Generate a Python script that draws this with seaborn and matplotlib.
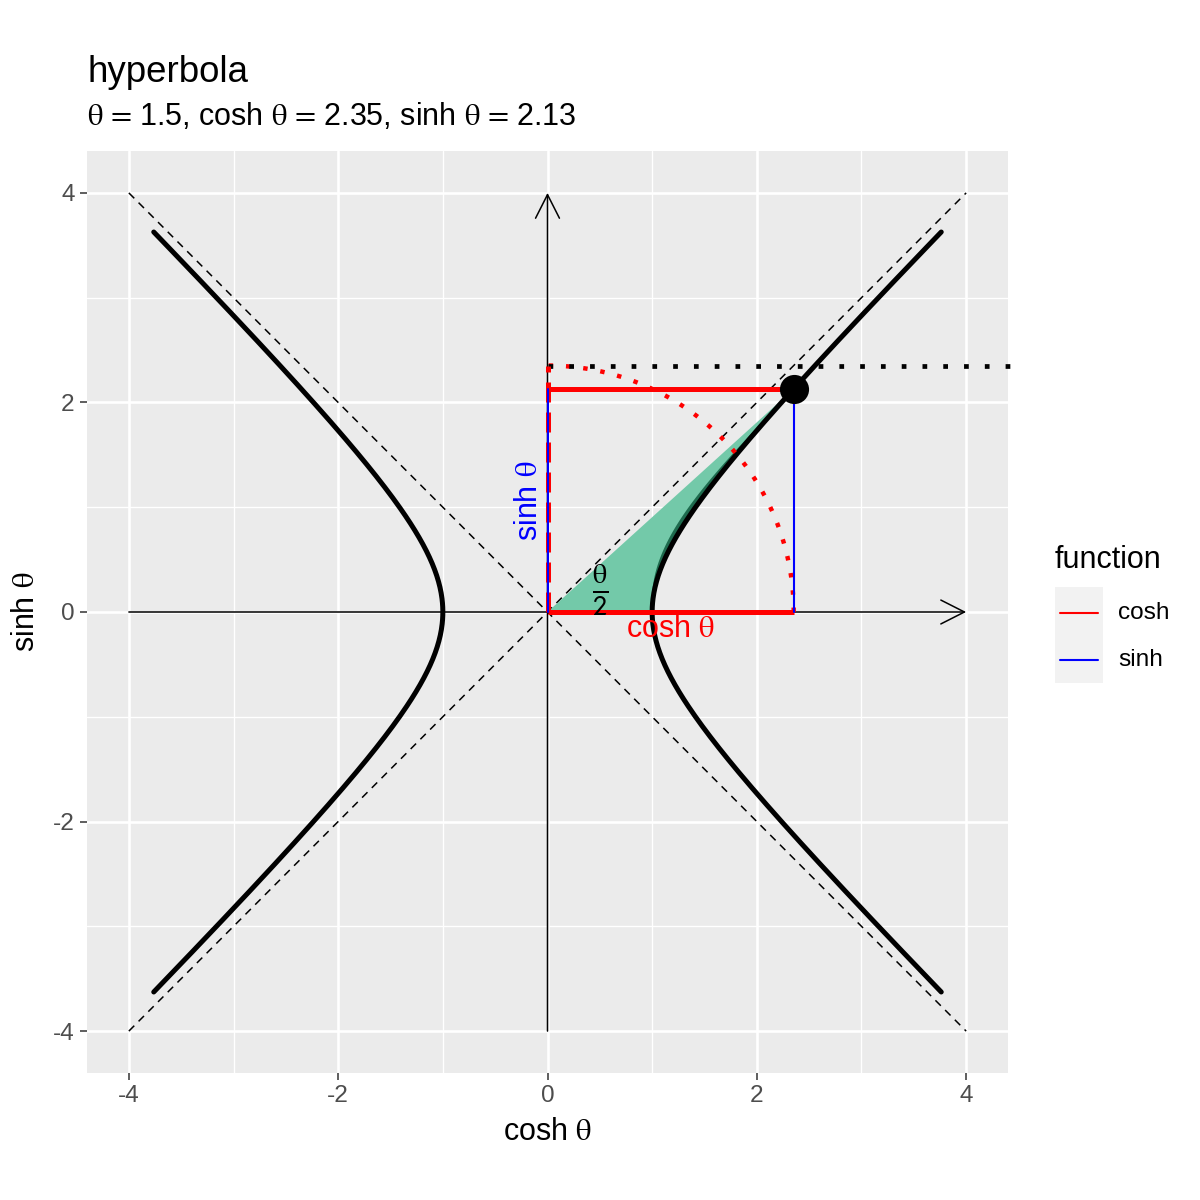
"""
Hyperbola x^2 - y^2 = 1 with cosh / sinh construction, ggplot look.
"""
import numpy as np
import pandas as pd
import seaborn as sns
import matplotlib.pyplot as plt
from matplotlib.lines import Line2D
from matplotlib.patches import Rectangle, Polygon

# --- values ---
theta = 1.5
theta_range = [-2.0, 2.0]      # parameter range of the hyperbola branches
asym_lim = 4.0                 # asymptotes / axis arrows go from -4 to 4
dotted_end = 4.5               # black dotted line at y = cosh(theta) runs past the panel
n_pts = 300
ticks = [-4, -2, 0, 2, 4]
minor_ticks = [-3, -1, 1, 3]
legend_labels = ["cosh", "sinh"]
legend_colors = ["red", "blue"]

cosh_t = np.cosh(theta)
sinh_t = np.sinh(theta)

t = np.linspace(theta_range[0], theta_range[1], n_pts)
right_df = pd.DataFrame({"x": np.cosh(t), "y": np.sinh(t)})
left_df = pd.DataFrame({"x": -np.cosh(t), "y": np.sinh(t)})

sns.set_theme(style="darkgrid", rc={
    "axes.facecolor": "#EBEBEB",
    "grid.color": "white",
    "figure.facecolor": "white",
    "text.color": "black",
    "axes.labelcolor": "black",
})
plt.rcParams["font.family"] = ["Liberation Sans", "DejaVu Sans"]
plt.rcParams["mathtext.fontset"] = "stix"
plt.rcParams["axes.unicode_minus"] = False

TH = r"$\mathrm{\theta}$"
THEQ = r"$\mathrm{\theta}\,=\,$"

fig = plt.figure(figsize=(12, 12), dpi=100)
ax = fig.add_axes([87 / 1200, 1 - 1073 / 1200, 921 / 1200, 922 / 1200])
ax.set_xlim(-4.4, 4.4)
ax.set_ylim(-4.4, 4.4)

# grid
ax.set_xticks(ticks)
ax.set_yticks(ticks)
ax.set_xticks(minor_ticks, minor=True)
ax.set_yticks(minor_ticks, minor=True)
ax.grid(which="major", color="white", lw=1.9)
ax.grid(which="minor", color="white", lw=0.95)
ax.set_axisbelow(True)
for s in ax.spines.values():
    s.set_visible(False)
ax.tick_params(which="major", length=5, width=1.1, color="#333333",
               labelsize=17.6, labelcolor="#4D4D4D", pad=4, bottom=True, left=True)
ax.tick_params(which="minor", length=0)

# asymptotes
ax.plot([-asym_lim, asym_lim], [-asym_lim, asym_lim], color="black", lw=1.1,
        ls=(0, (5, 4)), zorder=2)
ax.plot([-asym_lim, asym_lim], [asym_lim, -asym_lim], color="black", lw=1.1,
        ls=(0, (5, 4)), zorder=2)

# axis arrows
arrow = dict(arrowstyle="->,head_length=0.85,head_width=0.43", lw=1.1,
             color="black", mutation_scale=20, shrinkA=0, shrinkB=0)
ax.annotate("", xy=(asym_lim, 0), xytext=(-asym_lim, 0), arrowprops=arrow, zorder=2)
ax.annotate("", xy=(0, asym_lim), xytext=(0, -asym_lim), arrowprops=arrow, zorder=2)

# hyperbolic sector (area theta/2)
ts = np.linspace(0, theta, 150)
sector = np.vstack([[0, 0], np.column_stack([np.cosh(ts), np.sinh(ts)])])
ax.add_patch(Polygon(sector, closed=True, facecolor="#73C9A9", edgecolor="none", zorder=3))
# darker strip along the curve edge
ts2 = np.linspace(0.05, theta - 0.03, 120)
cx, cy = np.cosh(ts2), np.sinh(ts2)
nrm = np.hypot(cx, cy)
d = 0.055 * np.sin(np.pi * (ts2 - 0.05) / (theta - 0.08))
inner = np.column_stack([cx - d * cx / nrm, cy + d * cy / nrm])
strip = np.vstack([np.column_stack([cx, cy]), inner[::-1]])
ax.add_patch(Polygon(strip, closed=True, facecolor="#1E6B4E", edgecolor="none", zorder=3))

# hyperbola branches
sns.lineplot(data=right_df, x="x", y="y", sort=False, estimator=None, color="black",
             lw=3.6, ax=ax, zorder=4)
sns.lineplot(data=left_df, x="x", y="y", sort=False, estimator=None, color="black",
             lw=3.6, ax=ax, zorder=4)

# dotted quarter circle of radius cosh(theta)
phi = np.linspace(0, np.pi / 2, 100)
ax.plot(cosh_t * np.cos(phi), cosh_t * np.sin(phi), color="red", lw=3.2,
        ls=(0, (1, 2.9)), zorder=5)
# black dotted line at y = cosh(theta)
ax.plot([0, dotted_end], [cosh_t, cosh_t], color="black", lw=3.4,
        ls=(0, (1, 3.4)), clip_on=False, zorder=5)

# cosh / sinh segments
ax.plot([0, cosh_t], [0, 0], color="red", lw=3.6, solid_capstyle="butt", zorder=6)
ax.plot([0, cosh_t], [sinh_t, sinh_t], color="red", lw=3.6, solid_capstyle="butt", zorder=6)
ax.plot([0, 0], [0, cosh_t], color="red", lw=3.6, ls=(0, (4, 2)), zorder=6)
ax.plot([0, 0], [0, sinh_t], color="blue", lw=1.5, zorder=7)
ax.plot([cosh_t, cosh_t], [0, sinh_t], color="blue", lw=1.5, zorder=7)

# point
ax.scatter([cosh_t], [sinh_t], s=440, color="black", zorder=8, linewidths=0)

# annotations
ax.text(0.5, 0.21, r"$\frac{\mathrm{\theta}}{\mathsf{2}}$", fontsize=29,
        ha="center", va="center", zorder=9)
ax.text(cosh_t / 2, -0.16, "cosh " + TH, color="red", fontsize=22,
        ha="center", va="center", zorder=9)
ax.text(-0.18, sinh_t / 2, "sinh " + TH, color="blue", fontsize=22, rotation=90,
        ha="center", va="center", zorder=9)

# axis labels
ax.set_xlabel("cosh " + TH, fontsize=22, color="black")
ax.set_ylabel("sinh " + TH, fontsize=22, color="black")
ax.xaxis.set_label_coords(0.5, -0.048)
ax.yaxis.set_label_coords(-0.05, 0.5)

# titles
fig.text(87 / 1200, 1 - 82 / 1200, "hyperbola", fontsize=26.4, ha="left", va="baseline")
fig.text(87 / 1200, 1 - 125 / 1200,
         THEQ + "1.5, cosh " + THEQ + f"{cosh_t:.2f}" +
         ", sinh " + THEQ + f"{sinh_t:.2f}",
         fontsize=22, ha="left", va="baseline")

# legend (drawn by hand to get the grey key boxes)
fig.text(1055 / 1200, 1 - 560 / 1200, "function", fontsize=22, ha="left", va="center")
fig.patches.append(Rectangle((1055 / 1200, 1 - 683 / 1200), 48 / 1200, 96 / 1200,
                             transform=fig.transFigure, facecolor="#F2F2F2",
                             edgecolor="none"))
for i, (lab, col) in enumerate(zip(legend_labels, legend_colors)):
    yy = 1 - (613 + 47 * i) / 1200
    fig.lines.append(Line2D([1060 / 1200, 1098 / 1200], [yy, yy], color=col, lw=1.5,
                            transform=fig.transFigure))
    fig.text(1118 / 1200, yy, lab, fontsize=17.6, ha="left", va="center")

fig.savefig("out.png", dpi=100)
